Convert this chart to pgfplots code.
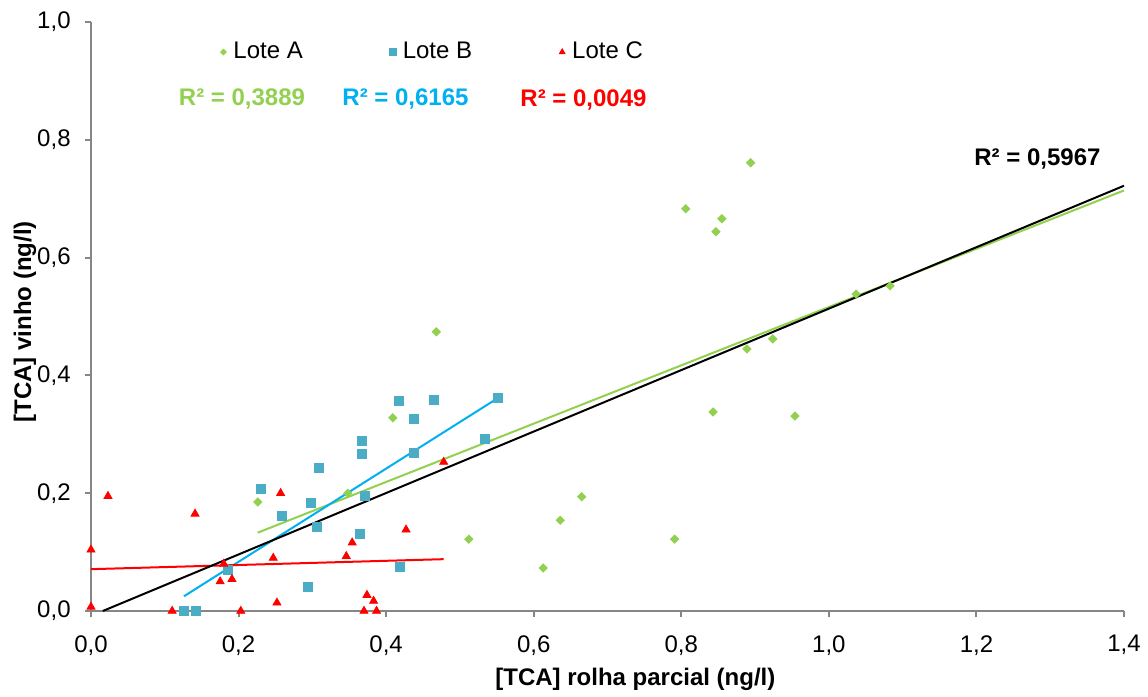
\documentclass[border=0pt]{standalone}
\usepackage{fontspec}
\setmainfont{Liberation Sans}
\usepackage{pgfplots}
\pgfplotsset{compat=1.18}
\definecolor{lgreen}{HTML}{92D050}
\definecolor{sqblue}{HTML}{4BACC6}
\definecolor{lblue}{HTML}{00B0F0}
\definecolor{axgray}{HTML}{868686}
\newcommand{\fs}{\fontsize{12}{14.4}\selectfont}
\pgfplotsset{smallleg/.style={legend image code/.code={\path[draw=none] (0pt,0pt) -- (6pt,0pt); \draw[##1,/tikz/every mark/.append style={scale=#1}] plot coordinates {(3pt,0pt)};}}}
\begin{document}
\fs
\begin{tikzpicture}
\useasboundingbox (-45.5pt,-43pt) rectangle (528.5pt,305.5pt);
\begin{axis}[
  at={(0,0)}, anchor=south west,
  width=516.5pt, height=294.5pt, scale only axis,
  xmin=0, xmax=1.4, ymin=0, ymax=1,
  clip=false,
  xtick={0,0.2,0.4,0.6,0.8,1.0,1.2,1.4},
  ytick={0,0.2,0.4,0.6,0.8,1.0},
  axis x line=bottom, axis y line=left,
  axis line style={-, draw=axgray, line width=1pt},
  tick align=outside, major tick length=3pt,
  every tick/.style={axgray, line width=1pt},
  tick label style={font=\fs, text=black},
  xticklabel style={yshift=-5pt},
  yticklabel style={xshift=-3pt},
  /pgf/number format/assume math mode=true,
  /pgf/number format/use comma,
  /pgf/number format/fixed,
  /pgf/number format/fixed zerofill,
  /pgf/number format/precision=1,
  xlabel={{[TCA] rolha parcial (ng/l)}},
  ylabel={{[TCA] vinho (ng/l)}},
  xlabel style={font=\fs\bfseries, at={(axis description cs:0.527,-0.1155)}, anchor=center},
  ylabel style={font=\fs\bfseries, at={(axis description cs:-0.0639,0.4907)}, anchor=center},
  legend columns=3,
  legend style={draw=none, fill=none, font=\fs, inner sep=0pt,
    at={(axis description cs:0.122,0.949)}, anchor=west,
    /tikz/every even column/.append style={column sep=40pt}},
]
% Lote A
\addplot[only marks, color=lgreen, mark=square*, mark size=1.45pt, mark options={rotate=45}, smallleg=0.7]
  table {
x y
0.226 0.185
0.348 0.200
0.409 0.328
0.468 0.474
0.512 0.122
0.613 0.073
0.636 0.154
0.665 0.194
0.791 0.122
0.806 0.683
0.855 0.666
0.847 0.644
0.894 0.761
0.843 0.338
0.889 0.445
0.924 0.462
0.954 0.331
1.037 0.538
1.083 0.552
};
\addlegendentry{Lote A}
% Lote B
\addplot[only marks, color=sqblue, mark=square*, mark size=2.25pt, smallleg=0.75]
  table {
x y
0.126 0.000
0.142 0.000
0.186 0.070
0.230 0.207
0.259 0.161
0.294 0.041
0.298 0.183
0.306 0.143
0.309 0.243
0.365 0.131
0.367 0.289
0.367 0.267
0.371 0.195
0.417 0.357
0.419 0.075
0.437 0.326
0.438 0.268
0.465 0.358
0.534 0.292
0.552 0.362
};
\addlegendentry{Lote B}
% Lote C
\addplot[only marks, color=red, mark=triangle*, mark size=2.3pt, smallleg=0.7]
  table {
x y
0.000 0.007
0.000 0.104
0.023 0.195
0.110 0.000
0.141 0.165
0.175 0.050
0.180 0.080
0.191 0.054
0.203 0.000
0.247 0.090
0.252 0.014
0.257 0.200
0.346 0.093
0.354 0.116
0.370 0.000
0.374 0.027
0.383 0.017
0.387 0.000
0.427 0.138
0.478 0.253
};
\addlegendentry{Lote C}
% trend lines
\addplot[forget plot, lgreen, line width=1pt, no marks] coordinates {(0.226,0.133) (1.4,0.714)};
\addplot[forget plot, lblue, line width=1pt, no marks] coordinates {(0.126,0.025) (0.552,0.362)};
\addplot[forget plot, red, line width=1pt, no marks] coordinates {(0.0,0.071) (0.478,0.088)};
\addplot[forget plot, black, line width=1pt, no marks] coordinates {(0.016,0.0) (1.4,0.722)};
% R2 labels
\node[font=\fs\bfseries, text=lgreen] at (axis cs:0.2046,0.869) {R² = 0,3889};
\node[font=\fs\bfseries, text=lblue] at (axis cs:0.4262,0.869) {R² = 0,6165};
\node[font=\fs\bfseries, text=red] at (axis cs:0.6675,0.8676) {R² = 0,0049};
\node[font=\fs\bfseries, text=black] at (axis cs:1.2827,0.7674) {R² = 0,5967};
\end{axis}
\end{tikzpicture}
\end{document}
